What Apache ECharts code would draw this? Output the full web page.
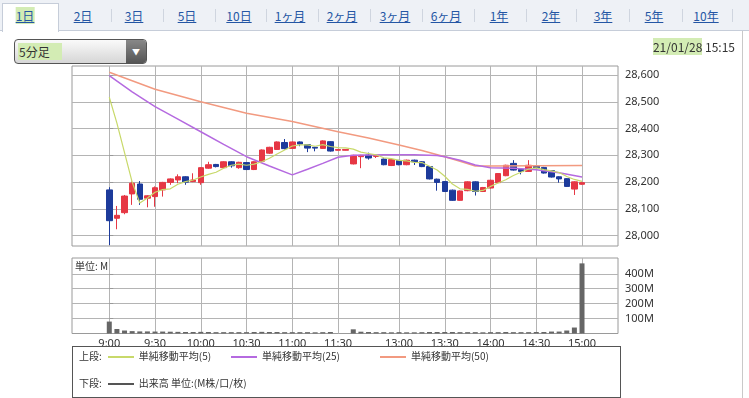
<!DOCTYPE html>
<html>
<head>
<meta charset="utf-8">
<script src="https://cdn.jsdelivr.net/npm/echarts@6/dist/echarts.min.js"></script>
<style>
  body { margin: 0; background: #fff; font-family: "Noto Sans CJK JP", "Noto Sans", sans-serif; }
  #wrap { position: relative; width: 749px; height: 398px; overflow: hidden; background: #fff; }
  #main { position: absolute; left: 0; top: 0; width: 749px; height: 398px; }
  #tabs { position: absolute; left: 0; top: 0; width: 749px; height: 30px; background: #eef1f6; border-bottom: 1px solid #c6cdd9; }
  .tab { position: absolute; top: 7px; font-size: 12px; color: #2456a4; text-decoration: underline; transform: translateX(-50%); white-space: nowrap; }
  .sep { position: absolute; top: 9px; width: 1px; height: 13px; background: #cfd5df; }
  #sel { position: absolute; left: 2px; top: 3px; width: 55px; height: 28px; background: #fff; border: 1px solid #c6cdd9; border-bottom: none; }
  .hl { background: #d3ecb4; }
  #drop { position: absolute; left: 14px; top: 39px; width: 131px; height: 23px; border: 1px solid #555; border-radius: 4px;
          background: linear-gradient(#fafafa, #d6d6d6); overflow: hidden; }
  #drop span.t { position: absolute; left: 3px; top: 3px; font-size: 12px; color: #333; padding: 0 12px 0 1px; }
  #drop .btn { position: absolute; right: 0; top: 0; width: 20px; height: 23px; background: linear-gradient(#888, #555); color: #fff; font-size: 8px; text-align: center; line-height: 23px; }
  #date { position: absolute; right: 14px; top: 38px; font-size: 12px; color: #333; }
  #rb { position: absolute; left: 742px; top: 31px; width: 1px; height: 367px; background: #c9c9c9; }
  #legend { position: absolute; left: 72px; top: 346px; width: 547px; height: 50px; border: 1px solid #555; font-size: 10px; color: #333; }
  #legend .row { position: absolute; left: 6px; white-space: nowrap; }
  #legend .ln { display: inline-block; width: 26px; height: 0; border-top: 2px solid; vertical-align: middle; margin: 0 5px 0 6px; }
</style>
</head>
<body>
<div id="wrap">
  <div id="main"></div>
  <div id="tabs"></div>
  <div id="drop"><span class="t hl">5分足</span><div class="btn">&#9660;</div></div>
  <div id="date"><span class="hl">21/01/28</span> 15:15</div>
  <div id="rb"></div>
  <div id="legend">
    <div class="row" style="top:1px">上段:<span class="ln" style="border-color:#c8d96a"></span>単純移動平均(5)<span class="ln" style="border-color:#b56ae0;margin-left:20px"></span>単純移動平均(25)<span class="ln" style="border-color:#f29a80;margin-left:40px"></span>単純移動平均(50)</div>
    <div class="row" style="top:28px">下段:<span class="ln" style="border-color:#555"></span>出来高 単位:(M株/口/枚)</div>
  </div>
</div>
<script>
// period tabs
var tabNames = ['1日', '2日', '3日', '5日', '10日', '1ヶ月', '2ヶ月', '3ヶ月', '6ヶ月', '1年', '2年', '3年', '5年', '10年']
var tabX = [25, 83, 134, 187, 239, 290, 342, 395, 446, 499, 551, 603, 654, 706]
var sepX = [111, 163, 215, 266, 318, 370, 422, 474, 526, 576, 629, 682, 732]

// x axis labels (bar index -> time)
var timeLabels = ['9:00', '9:30', '10:00', '10:30', '11:00', '11:30', '13:00', '13:30', '14:00', '14:30', '15:00']
var timeIdx = [0, 6, 12, 18, 24, 30, 38, 44, 50, 56, 62]
var priceTicks = [28000, 28100, 28200, 28300, 28400, 28500, 28600]
var volTicks = [100, 200, 300, 400]

// 5 minute candles
var opens = [28171, 28065, 28086, 28156, 28193, 28140, 28146, 28171, 28199, 28208, 28220, 28202, 28198, 28252, 28266, 28254,
  28276, 28254, 28273, 28247, 28278, 28308, 28322, 28348, 28326, 28350, 28340, 28330, 28326, 28351, 28319, 28319,
  28268, 28295, 28301, 28296, 28286, 28262, 28281, 28265, 28282, 28276, 28258, 28211, 28202, 28170, 28132, 28168,
  28201, 28165, 28178, 28198, 28224, 28270, 28248, 28240, 28259, 28255, 28243, 28220, 28213, 28174, 28192]
var closes = [28056, 28076, 28148, 28196, 28136, 28149, 28179, 28199, 28212, 28220, 28200, 28208, 28254, 28265, 28258, 28276,
  28261, 28274, 28247, 28276, 28320, 28330, 28350, 28325, 28350, 28342, 28327, 28327, 28354, 28316, 28322, 28322,
  28300, 28300, 28290, 28300, 28265, 28284, 28265, 28282, 28276, 28258, 28212, 28199, 28165, 28132, 28167, 28201,
  28165, 28180, 28207, 28232, 28263, 28245, 28240, 28263, 28254, 28234, 28219, 28212, 28184, 28201, 28198]
var lows = [27965, 28024, 28080, 28115, 28115, 28106, 28108, 28146, 28190, 28196, 28190, 28200, 28190, 28250, 28255, 28252,
  28254, 28250, 28245, 28245, 28276, 28305, 28320, 28322, 28324, 28334, 28312, 28315, 28324, 28314, 28318, 28318,
  28266, 28252, 28284, 28290, 28263, 28260, 28263, 28263, 28264, 28256, 28210, 28168, 28163, 28130, 28130, 28166,
  28150, 28163, 28176, 28196, 28222, 28243, 28229, 28238, 28252, 28232, 28217, 28198, 28182, 28152, 28190]
var highs = [28181, 28111, 28152, 28202, 28204, 28151, 28184, 28201, 28214, 28229, 28222, 28233, 28256, 28276, 28268, 28278,
  28278, 28276, 28275, 28278, 28322, 28332, 28352, 28361, 28352, 28352, 28342, 28332, 28356, 28353, 28323, 28323,
  28302, 28302, 28310, 28302, 28288, 28286, 28283, 28284, 28284, 28278, 28260, 28213, 28204, 28172, 28169, 28203,
  28203, 28182, 28209, 28234, 28265, 28282, 28250, 28282, 28261, 28257, 28245, 28222, 28215, 28203, 28200]

// volume (M)
var volumes = [80, 30, 20, 16, 14, 14, 13, 13, 12, 11, 10, 10, 11, 10, 9, 9,
  9, 9, 9, 10, 11, 10, 10, 9, 9, 9, 9, 8, 9, 10, 0, 0,
  28, 12, 10, 9, 9, 8, 9, 8, 8, 9, 10, 10, 10, 10, 9, 9,
  9, 8, 9, 9, 10, 9, 9, 9, 10, 10, 13, 13, 20, 40, 470]

// moving averages
var ma5 = [28517, 28420, 28310, 28200, 28122, 28141, 28162, 28172, 28175, 28192, 28202, 28208, 28219, 28229, 28237, 28252,
  28263, 28267, 28263, 28267, 28276, 28289, 28305, 28320, 28335, 28339, 28339, 28334, 28340, 28333, 28329, 28328,
  28323, 28312, 28307, 28302, 28291, 28288, 28281, 28279, 28274, 28273, 28259, 28245, 28222, 28193, 28175, 28173,
  28166, 28169, 28184, 28197, 28209, 28225, 28237, 28249, 28253, 28247, 28242, 28236, 28221, 28210, 28203]
var ma25Idx = [0, 3, 6, 9, 12, 15, 18, 21, 24, 26, 28, 30, 32, 36, 40, 43, 44, 46, 48, 50, 53, 56, 59, 62]
var ma25 = [28598, 28537, 28482, 28435, 28388, 28341, 28295, 28260, 28227, 28248, 28270, 28293, 28300, 28302, 28302, 28299,
  28295, 28282, 28264, 28254, 28252, 28246, 28235, 28219]
var ma50Idx = [0, 6, 12, 18, 24, 30, 34, 38, 41, 44, 46, 48, 50, 62]
var ma50 = [28610, 28547, 28500, 28457, 28426, 28388, 28365, 28339, 28318, 28295, 28278, 28260, 28260, 28262]

// tabs
var tabs = document.getElementById('tabs')
var sel = document.createElement('div')
sel.id = 'sel'
tabs.appendChild(sel)
sepX.forEach(function (x) {
  var s = document.createElement('div')
  s.className = 'sep'
  s.style.left = x + 'px'
  tabs.appendChild(s)
})
tabNames.forEach(function (name, i) {
  var t = document.createElement('span')
  t.className = 'tab' + (i === 0 ? ' hl' : '')
  t.textContent = name
  t.style.left = tabX[i] + 'px'
  tabs.appendChild(t)
})

var gridColor = '#b4b4b4'
var xMin = -4.89, xMax = 66.72

function pairs(xs, ys) {
  return ys.map(function (v, i) { return [xs ? xs[i] : i, v] })
}

var candles = opens.map(function (o, i) { return [i, o, closes[i], lows[i], highs[i]] })

function xAxisFor(grid, showLabel) {
  return {
    type: 'value', gridIndex: grid, min: xMin, max: xMax,
    axisLine: { show: false },
    axisTick: { show: false, customValues: timeIdx },
    axisLabel: {
      show: showLabel, customValues: timeIdx, margin: 5, fontSize: 11, color: '#333',
      formatter: function (v) { return timeLabels[timeIdx.indexOf(v)] }
    },
    splitLine: { show: true, lineStyle: { color: gridColor, width: 1 } }
  }
}

var chart = echarts.init(document.getElementById('main'))
chart.setOption({
  animation: false,
  backgroundColor: 'transparent',
  textStyle: { fontFamily: '"Noto Sans", "Noto Sans CJK JP", sans-serif' },
  grid: [
    { left: 72, top: 66, width: 546, height: 180, show: true, borderColor: '#9a9a9a', borderWidth: 1 },
    { left: 72, top: 258, width: 546, height: 75.5, show: true, borderColor: '#9a9a9a', borderWidth: 1 }
  ],
  xAxis: [xAxisFor(0, false), xAxisFor(1, true)],
  yAxis: [
    {
      type: 'value', gridIndex: 0, position: 'right', min: 27961.5, max: 28633.6, scale: true,
      axisLine: { show: false },
      axisTick: { show: true, length: 4, customValues: priceTicks, lineStyle: { color: '#999' } },
      axisLabel: {
        customValues: priceTicks, margin: 7, fontSize: 11, color: '#333',
        formatter: function (v) { return v.toLocaleString('en-US') }
      },
      splitLine: { show: true, lineStyle: { color: gridColor, width: 1 } }
    },
    {
      type: 'value', gridIndex: 1, position: 'right', min: 0, max: 506,
      axisLine: { show: false },
      axisTick: { show: true, length: 4, customValues: volTicks, lineStyle: { color: '#999' } },
      axisLabel: {
        customValues: volTicks, margin: 7, fontSize: 11, color: '#333',
        formatter: function (v) { return v + 'M' }
      },
      splitLine: { show: true, lineStyle: { color: gridColor, width: 1 } }
    }
  ],
  graphic: [
    { type: 'text', left: 75, top: 261, style: { text: '単位: M', fontSize: 10, fill: '#333', fontFamily: '"Noto Sans CJK JP", sans-serif' } }
  ],
  series: [
    {
      type: 'line', name: '単純移動平均(50)', xAxisIndex: 0, yAxisIndex: 0,
      data: pairs(ma50Idx, ma50), showSymbol: false, symbol: 'none',
      lineStyle: { color: '#f29a80', width: 1.5 }
    },
    {
      type: 'line', name: '単純移動平均(25)', xAxisIndex: 0, yAxisIndex: 0,
      data: pairs(ma25Idx, ma25), showSymbol: false, symbol: 'none',
      lineStyle: { color: '#b56ae0', width: 1.5 }
    },
    {
      type: 'line', name: '単純移動平均(5)', xAxisIndex: 0, yAxisIndex: 0,
      data: pairs(null, ma5), showSymbol: false, symbol: 'none',
      lineStyle: { color: '#c8d96a', width: 1.2 }
    },
    {
      type: 'candlestick', xAxisIndex: 0, yAxisIndex: 0,
      data: candles, barWidth: 6,
      itemStyle: { color: '#e63744', color0: '#1d3b9b', borderColor: '#e63744', borderColor0: '#1d3b9b', borderWidth: 1 }
    },
    {
      type: 'bar', name: '出来高', xAxisIndex: 1, yAxisIndex: 1,
      data: pairs(null, volumes), barWidth: 5,
      itemStyle: { color: '#666' }
    }
  ]
})
</script>
</body>
</html>
